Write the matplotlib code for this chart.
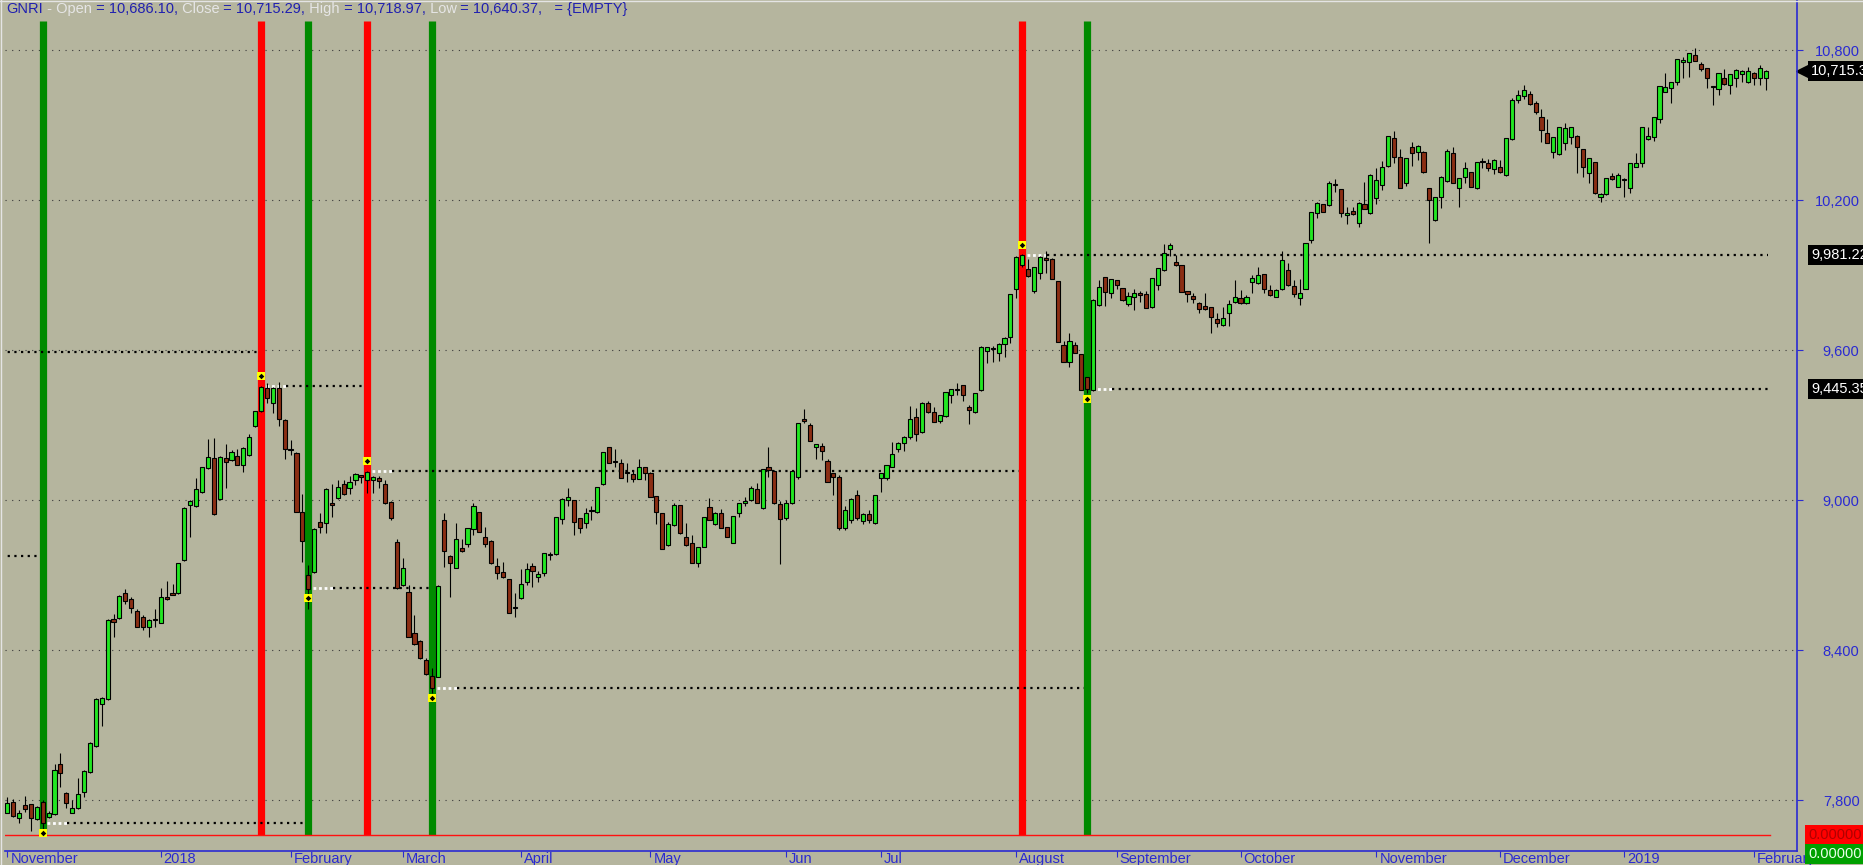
import matplotlib
matplotlib.use('Agg')
import matplotlib.pyplot as plt
from matplotlib.transforms import blended_transform_factory, ScaledTranslation

# daily candles, GNRI, Nov 2017 .. Feb 2019
opens = [7749, 7793, 7727, 7779, 7783, 7723, 7793, 7731, 7744, 7943,
         7829, 7749, 7767, 7833, 7913, 8016, 8183, 8203, 8523, 8529,
         8627, 8603, 8557, 8533, 8491, 8520, 8509, 8611, 8627, 8627,
         8760, 8979, 8976, 9033, 9127, 9167, 9003, 9167, 9160, 9177,
         9140, 9179, 9296, 9356, 9449, 9389, 9447, 9320, 9204, 9189,
         8951, 8699, 8711, 8913, 8909, 8987, 9007, 9063, 9047, 9080,
         9099, 9080, 9080, 9089, 9064, 8993, 8833, 8660, 8633, 8469,
         8436, 8360, 8297, 8293, 8920, 8776, 8727, 8807, 8824, 8883,
         8953, 8851, 8837, 8737, 8713, 8683, 8573, 8607, 8673, 8736,
         8691, 8709, 8779, 8783, 8923, 9000, 9000, 8927, 8907, 8956,
         8951, 9063, 9211, 9156, 9147, 9111, 9104, 9083, 9133, 9107,
         9016, 8949, 8820, 8900, 8979, 8851, 8827, 8747, 8811, 8971,
         8904, 8949, 8891, 8827, 8947, 8987, 9000, 9043, 8970, 9133,
         9115, 8985, 8930, 8990, 9093, 9323, 9300, 9211, 9216, 9157,
         9107, 9093, 8890, 8920, 9019, 8915, 8945, 8910, 9087, 9087,
         9133, 9204, 9227, 9253, 9333, 9272, 9387, 9353, 9317, 9336,
         9420, 9444, 9459, 9373, 9352, 9440, 9597, 9608, 9589, 9624,
         9651, 9843, 9940, 9923, 9837, 9907, 9967, 9963, 9876, 9620,
         9551, 9620, 9583, 9491, 9440, 9780, 9891, 9829, 9880, 9847,
         9784, 9813, 9829, 9823, 9771, 9860, 9920, 10003, 9951, 9939,
         9836, 9816, 9789, 9776, 9773, 9723, 9700, 9747, 9791, 9807,
         9787, 9873, 9869, 9903, 9840, 9813, 9843, 9920, 9856, 9807,
         9843, 10040, 10149, 10183, 10180, 10261, 10243, 10140, 10156, 10109,
         10184, 10147, 10207, 10260, 10336, 10447, 10373, 10267, 10411, 10393,
         10393, 10247, 10120, 10211, 10277, 10389, 10247, 10291, 10311, 10247,
         10355, 10349, 10323, 10331, 10300, 10443, 10600, 10615, 10625, 10590,
         10531, 10469, 10393, 10384, 10429, 10453, 10456, 10403, 10307, 10351,
         10211, 10224, 10296, 10253, 10281, 10247, 10331, 10349, 10443, 10451,
         10523, 10633, 10647, 10673, 10751, 10751, 10780, 10744, 10727, 10655,
         10643, 10687, 10660, 10687, 10703, 10673, 10707, 10687, 10686.10]
highs = [7811, 7803, 7760, 7816, 7783, 7776, 7800, 7757, 7943, 7989,
         7833, 7800, 7887, 7920, 8033, 8207, 8213, 8523, 8544, 8620,
         8643, 8613, 8563, 8540, 8523, 8563, 8647, 8677, 8663, 8749,
         8973, 9000, 9087, 9133, 9243, 9247, 9176, 9224, 9200, 9203,
         9211, 9264, 9357, 9456, 9467, 9453, 9473, 9323, 9240, 9193,
         9024, 8740, 8887, 8947, 9047, 9064, 9080, 9080, 9096, 9107,
         9101, 9117, 9096, 9097, 9080, 8996, 8843, 8767, 8660, 8540,
         8440, 8367, 8327, 8660, 8949, 8779, 8907, 8843, 8887, 8987,
         8953, 8893, 8840, 8767, 8753, 8683, 8629, 8723, 8749, 8749,
         8717, 8789, 8793, 8933, 9007, 9047, 9000, 8927, 8967, 8976,
         9053, 9193, 9211, 9203, 9163, 9147, 9120, 9163, 9133, 9113,
         9016, 8949, 8913, 8987, 8980, 8907, 8860, 8811, 8931, 9007,
         8953, 8963, 8891, 8937, 8989, 9013, 9056, 9069, 9125, 9211,
         9120, 8995, 9000, 9120, 9307, 9363, 9309, 9223, 9227, 9163,
         9107, 9100, 8975, 9010, 9040, 8950, 8960, 9020, 9109, 9139,
         9232, 9233, 9256, 9376, 9367, 9392, 9397, 9373, 9339, 9433,
         9445, 9469, 9459, 9380, 9429, 9616, 9613, 9616, 9627, 9651,
         9824, 9976, 9985, 9963, 9933, 9976, 9997, 9967, 9876, 9636,
         9669, 9633, 9583, 9493, 9803, 9880, 9891, 9883, 9880, 9847,
         9833, 9843, 9837, 9836, 9887, 9927, 10024, 10027, 9980, 9939,
         9836, 9827, 9793, 9827, 9773, 9747, 9771, 9800, 9880, 9840,
         9820, 9900, 9931, 9903, 9860, 9843, 9997, 9947, 9880, 9883,
         10029, 10153, 10193, 10183, 10276, 10283, 10243, 10173, 10173, 10193,
         10273, 10304, 10327, 10357, 10456, 10477, 10403, 10367, 10431, 10420,
         10397, 10247, 10211, 10296, 10403, 10411, 10289, 10353, 10311, 10353,
         10367, 10363, 10363, 10360, 10449, 10610, 10640, 10660, 10635, 10595,
         10563, 10523, 10453, 10493, 10507, 10493, 10460, 10403, 10367, 10351,
         10227, 10287, 10307, 10309, 10287, 10347, 10387, 10493, 10493, 10533,
         10657, 10707, 10671, 10763, 10773, 10789, 10807, 10753, 10727, 10656,
         10709, 10723, 10703, 10723, 10720, 10731, 10713, 10740, 10718.97]
lows = [7747, 7733, 7707, 7753, 7676, 7720, 7680, 7727, 7740, 7853,
        7767, 7747, 7763, 7811, 7909, 8013, 8096, 8200, 8453, 8525,
        8583, 8547, 8493, 8480, 8453, 8493, 8507, 8600, 8620, 8624,
        8757, 8853, 8973, 9029, 9123, 8940, 9000, 9047, 9157, 9139,
        9113, 9176, 9293, 9353, 9387, 9347, 9296, 9163, 9180, 8951,
        8753, 8563, 8707, 8869, 8869, 8933, 9003, 9020, 9024, 9060,
        9067, 9027, 9027, 9047, 8984, 8920, 8643, 8656, 8451, 8420,
        8364, 8300, 8227, 8291, 8733, 8613, 8727, 8793, 8811, 8860,
        8871, 8811, 8745, 8683, 8687, 8547, 8533, 8603, 8660, 8651,
        8673, 8696, 8760, 8780, 8904, 8976, 8860, 8869, 8887, 8920,
        8949, 9060, 9149, 9133, 9087, 9073, 9073, 9083, 9080, 9011,
        8904, 8803, 8816, 8896, 8865, 8816, 8747, 8731, 8811, 8920,
        8900, 8887, 8851, 8827, 8933, 8976, 8997, 8987, 8965, 9093,
        8985, 8745, 8920, 8985, 9083, 9307, 9237, 9165, 9160, 9073,
        9020, 8880, 8880, 8910, 8920, 8905, 8910, 8905, 9033, 9080,
        9131, 9193, 9197, 9243, 9237, 9269, 9349, 9313, 9309, 9333,
        9389, 9420, 9397, 9303, 9349, 9437, 9547, 9553, 9557, 9571,
        9627, 9807, 9933, 9893, 9827, 9883, 9907, 9883, 9631, 9553,
        9533, 9587, 9440, 9427, 9437, 9776, 9776, 9807, 9843, 9797,
        9776, 9760, 9793, 9767, 9768, 9840, 9917, 9976, 9936, 9831,
        9793, 9789, 9747, 9760, 9667, 9691, 9696, 9696, 9787, 9784,
        9784, 9827, 9864, 9827, 9816, 9811, 9840, 9856, 9813, 9780,
        9843, 10029, 10127, 10151, 10176, 10233, 10131, 10104, 10140, 10091,
        10163, 10144, 10184, 10240, 10333, 10349, 10247, 10256, 10336, 10360,
        10309, 10027, 10117, 10167, 10273, 10267, 10173, 10269, 10251, 10244,
        10327, 10317, 10304, 10309, 10297, 10440, 10590, 10605, 10580, 10545,
        10433, 10429, 10367, 10380, 10400, 10424, 10307, 10293, 10269, 10224,
        10193, 10220, 10280, 10251, 10213, 10227, 10331, 10331, 10440, 10437,
        10507, 10633, 10587, 10660, 10687, 10693, 10757, 10717, 10647, 10580,
        10620, 10660, 10623, 10651, 10673, 10669, 10660, 10660, 10640.37]
closes = [7789, 7736, 7749, 7763, 7727, 7773, 7709, 7749, 7920, 7907,
          7789, 7767, 7823, 7917, 8027, 8203, 8207, 8520, 8513, 8616,
          8596, 8567, 8493, 8493, 8520, 8519, 8613, 8603, 8621, 8747,
          8969, 8997, 9043, 9131, 9171, 8944, 9173, 9153, 9193, 9141,
          9207, 9251, 9355, 9453, 9407, 9447, 9323, 9203, 9199, 8953,
          8835, 8645, 8883, 8891, 9043, 8981, 9053, 9023, 9073, 9103,
          9093, 9113, 9091, 9075, 8987, 8927, 8647, 8727, 8453, 8424,
          8367, 8303, 8247, 8657, 8797, 8747, 8844, 8797, 8887, 8976,
          8871, 8824, 8747, 8707, 8691, 8547, 8569, 8663, 8723, 8717,
          8704, 8787, 8781, 8931, 9003, 9011, 8913, 8887, 8949, 8959,
          9051, 9193, 9149, 9153, 9087, 9108, 9083, 9133, 9107, 9011,
          8953, 8803, 8903, 8979, 8867, 8819, 8747, 8811, 8931, 8920,
          8947, 8887, 8851, 8937, 8989, 8996, 9047, 8987, 9123, 9120,
          8990, 8925, 8990, 9117, 9307, 9317, 9237, 9223, 9197, 9073,
          9093, 8890, 8960, 9003, 8930, 8945, 8920, 9019, 9109, 9139,
          9183, 9227, 9253, 9323, 9264, 9389, 9352, 9313, 9339, 9433,
          9445, 9441, 9419, 9360, 9429, 9613, 9611, 9605, 9624, 9647,
          9823, 9973, 9981, 9896, 9931, 9971, 9960, 9883, 9631, 9553,
          9636, 9589, 9440, 9445, 9800, 9853, 9833, 9883, 9860, 9800,
          9816, 9827, 9821, 9767, 9887, 9927, 9987, 10020, 9939, 9831,
          9823, 9803, 9763, 9765, 9731, 9709, 9727, 9783, 9811, 9787,
          9813, 9887, 9900, 9843, 9820, 9840, 9960, 9860, 9823, 9829,
          10029, 10153, 10189, 10151, 10269, 10259, 10149, 10149, 10143, 10189,
          10163, 10300, 10280, 10331, 10456, 10373, 10249, 10367, 10387, 10416,
          10311, 10200, 10211, 10293, 10396, 10267, 10289, 10327, 10251, 10353,
          10352, 10327, 10360, 10313, 10449, 10600, 10620, 10640, 10585, 10553,
          10480, 10429, 10453, 10493, 10487, 10493, 10411, 10331, 10367, 10229,
          10224, 10287, 10283, 10299, 10279, 10347, 10349, 10491, 10456, 10533,
          10657, 10651, 10671, 10763, 10759, 10787, 10757, 10723, 10687, 10652,
          10709, 10664, 10703, 10720, 10717, 10717, 10687, 10727, 10715.29]

month_bars = [0, 26, 48, 67, 87, 109, 132, 148, 171, 188, 209, 232, 253, 274, 296]
month_labels = ['November', '2018', 'February', 'March', 'April', 'May', 'Jun',
                'Jul', 'August', 'September', 'October', 'November', 'December',
                '2019', 'February']
price_ticks = [7800, 8400, 9000, 9600, 10200, 10800]

buy_bars = [6, 51, 72, 183]
sell_bars = [43, 61, 172]
dot_bars = [6, 43, 51, 61, 72, 172, 183]
dot_prices = [7669, 9497, 8609, 9157, 8209, 10021, 9404]

level_prices = [9591, 8776, 7709, 9455, 8647, 9115, 8247, 9981.22, 9445.35]
level_start = [None, None, 6, 43, 51, 61, 72, 172, 183]
level_end = [42, 5, 50, 60, 71, 171, 182, 298, 298]
price_boxes = [('9,981.22', 9981.22), ('9,445.35', 9445.35)]
last_label = '10,715.3'

BG = '#b5b59e'
BLUE = '#2a2ad2'
UP = '#22e622'
DOWN = '#8b2e14'
FS = 10.5
W, H = 1863, 865
plt.rcParams['font.family'] = ['Liberation Sans', 'DejaVu Sans']

fig = plt.figure(figsize=(W / 100, H / 100), dpi=100, facecolor=BG)
ax = fig.add_axes([5 / W, 1 - 851 / H, 1792 / W, 851 / H], facecolor=BG)
ax.set_xlim(-0.39, 303.3)
ax.set_ylim(7596, 11000)

# grid
for p in price_ticks:
    ax.axhline(p, color='#3a3a3a', lw=0.8, dashes=(1, 5), zorder=1)

# signal columns
base = 7660
ax.vlines(buy_bars, base, 10916, color='#008a00', lw=5.2, zorder=2)
ax.vlines(sell_bars, base, 10916, color='#ff0000', lw=5.2, zorder=2)
ax.axhline(base, xmax=0.985, color='#ff1010', lw=1.0, zorder=2)

# support / resistance levels
for p, s, e in zip(level_prices, level_start, level_end):
    if s is None:
        ax.plot([-1, e + 0.4], [p, p], color='black', lw=1.6, dashes=(1, 2), zorder=3)
    else:
        ax.plot([s + 0.8, s + 4.2], [p, p], color='white', lw=2.0, dashes=(1, 1), zorder=3)
        ax.plot([s + 4.2, e + 0.4], [p, p], color='black', lw=1.6, dashes=(1, 2), zorder=3)

# candles
xs = list(range(len(closes)))
ax.vlines(xs, lows, highs, color='black', lw=0.8, zorder=4)
bottoms = [min(o, c) for o, c in zip(opens, closes)]
heights = [max(abs(c - o), 4) for o, c in zip(opens, closes)]
colors = [UP if c >= o else DOWN for o, c in zip(opens, closes)]
ax.bar(xs, heights, bottom=bottoms, width=0.7, color=colors,
       edgecolor='black', linewidth=0.8, zorder=5)

# signal dots
ax.scatter(dot_bars, dot_prices, marker='s', s=34, color='#ffff00', zorder=6, linewidths=0)
ax.scatter(dot_bars, dot_prices, marker='D', s=8, color='black', zorder=7, linewidths=0)

# axes styling
for side in ['top', 'left']:
    ax.spines[side].set_visible(False)
for side in ['right', 'bottom']:
    ax.spines[side].set_color(BLUE)
    ax.spines[side].set_linewidth(1.2)

ax.yaxis.tick_right()
ax.set_yticks(price_ticks)
ax.set_yticklabels([f'{p:,}' for p in price_ticks])
ax.tick_params(axis='y', length=4, color=BLUE, labelcolor=BLUE, labelsize=FS, pad=41)
for lab in ax.get_yticklabels():
    lab.set_horizontalalignment('right')

ax.set_xticks(month_bars)
ax.set_xticklabels(month_labels)
ax.tick_params(axis='x', length=4, color=BLUE, labelcolor=BLUE, labelsize=FS, pad=-3)
shift = ScaledTranslation(3 / 100, 0, fig.dpi_scale_trans)
for lab in ax.get_xticklabels():
    lab.set_horizontalalignment('left')
    lab.set_transform(lab.get_transform() + shift)

# value boxes on the price scale
bt = blended_transform_factory(fig.transFigure, ax.transData)
for txt, p in price_boxes:
    fig.text(1811 / W, p, txt, transform=bt, color='white', fontsize=FS, va='center',
             bbox=dict(boxstyle='square,pad=0.2', fc='black', ec='none'))
fig.text(1811 / W, closes[-1], last_label, transform=bt, color='white', fontsize=FS,
         va='center', bbox=dict(boxstyle='square,pad=0.2', fc='black', ec='none'))
ax.plot([1802 / W], [closes[-1]], marker='<', ms=9, color='black', transform=bt, clip_on=False)
fig.text(1808 / W, base, '0.00000', transform=bt, color='#b00000', fontsize=FS, va='center',
         bbox=dict(boxstyle='square,pad=0.2', fc='#ff0000', ec='none'))
fig.text(1808 / W, 7584, '0.00000', transform=bt, color='#e8ffe8', fontsize=FS, va='center',
         bbox=dict(boxstyle='square,pad=0.2', fc='#00a000', ec='none'))

# header line
parts = [('GNRI', '#2020b0'), (' -', '#e6e6e6'), (' Open', '#e6e6e6'), (' = 10,686.10,', '#2020b0'),
         (' Close', '#e6e6e6'), (' = 10,715.29,', '#2020b0'), (' High', '#e6e6e6'),
         (' = 10,718.97,', '#2020b0'), (' Low', '#e6e6e6'), (' = 10,640.37,   = {EMPTY}', '#2020b0')]
renderer = fig.canvas.get_renderer()
x = 6 / W
for s, c in parts:
    t = fig.text(x, 1 - 9 / H, s, color=c, fontsize=FS, va='center', ha='left')
    x += t.get_window_extent(renderer).width / W

fig.add_artist(plt.Line2D([0, 1], [1 - 0.5 / H, 1 - 0.5 / H], transform=fig.transFigure,
                          color='#e4e4e4', lw=1))
fig.add_artist(plt.Line2D([0.5 / W, 0.5 / W], [0, 1], transform=fig.transFigure,
                          color='#e4e4e4', lw=1))

fig.savefig('out.png', dpi=100, facecolor=BG)
